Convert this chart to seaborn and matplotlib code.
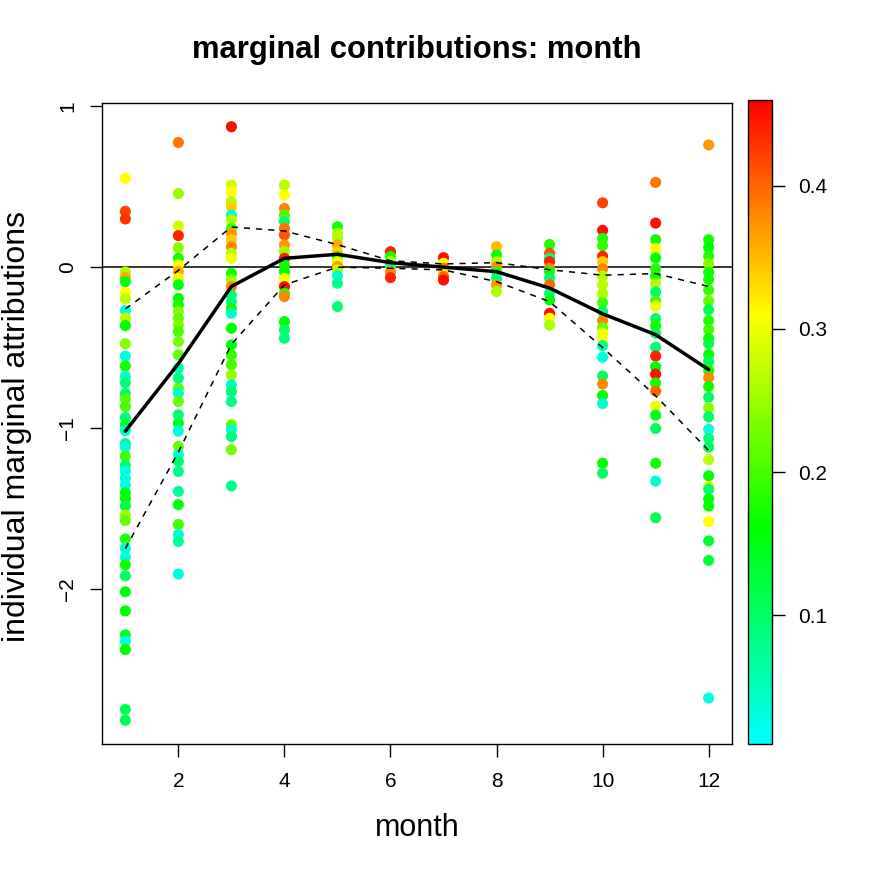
import numpy as np
import pandas as pd
import matplotlib
matplotlib.use("Agg")
import matplotlib.pyplot as plt
import seaborn as sns
from matplotlib.colors import LinearSegmentedColormap, Normalize
from matplotlib.cm import ScalarMappable

# individual marginal attributions per month (y) and colour value (c)
jan_y = [0.552, 0.347, 0.30, -0.03, -0.065, -0.09, -0.157, -0.196, -0.27, -0.317, -0.363, -0.476,
         -0.553, -0.615, -0.679, -0.718, -0.786, -0.82, -0.866, -0.935, -0.98, -1.016, -1.097,
         -1.119, -1.176, -1.233, -1.267, -1.313, -1.354, -1.404, -1.438, -1.484, -1.542, -1.575,
         -1.69, -1.748, -1.805, -1.851, -1.919, -2.018, -2.137, -2.286, -2.326, -2.377, -2.75, -2.817]
jan_c = [0.31, 0.42, 0.43, 0.26, 0.36, 0.15, 0.31, 0.27, 0.03, 0.27, 0.16, 0.24, 0.03, 0.17, 0.04,
         0.09, 0.10, 0.21, 0.20, 0.09, 0.14, 0.05, 0.08, 0.03, 0.20, 0.10, 0.03, 0.03, 0.03, 0.15,
         0.16, 0.12, 0.25, 0.22, 0.18, 0.04, 0.03, 0.17, 0.10, 0.15, 0.16, 0.14, 0.03, 0.16, 0.11, 0.11]

feb_y = [0.775, 0.458, 0.256, 0.196, 0.121, 0.055, 0.014, -0.028, -0.07, -0.11, -0.194, -0.235,
         -0.276, -0.318, -0.359, -0.4, -0.463, -0.545, -0.628, -0.69, -0.753, -0.784, -0.835,
         -0.918, -0.97, -1.02, -1.115, -1.166, -1.208, -1.27, -1.394, -1.477, -1.6, -1.663, -1.705, -1.908]
feb_c = [0.39, 0.25, 0.28, 0.44, 0.24, 0.17, 0.31, 0.36, 0.30, 0.15, 0.16, 0.17, 0.24, 0.22, 0.23,
         0.20, 0.23, 0.22, 0.06, 0.09, 0.21, 0.04, 0.22, 0.09, 0.14, 0.03, 0.22, 0.04, 0.09, 0.08,
         0.07, 0.15, 0.20, 0.03, 0.07, 0.03]

mar_y = [0.873, 0.51, 0.469, 0.407, 0.376, 0.324, 0.293, 0.241, 0.21, 0.169, 0.127, 0.086, 0.055,
         -0.038, -0.08, -0.121, -0.173, -0.214, -0.256, -0.287, -0.38, -0.483, -0.545, -0.607,
         -0.67, -0.732, -0.773, -0.835, -0.98, -1.011, -1.053, -1.135, -1.36]
mar_c = [0.45, 0.28, 0.31, 0.27, 0.34, 0.04, 0.26, 0.20, 0.37, 0.34, 0.38, 0.27, 0.30, 0.17, 0.25,
         0.38, 0.09, 0.08, 0.17, 0.05, 0.16, 0.15, 0.19, 0.20, 0.25, 0.04, 0.09, 0.08, 0.22, 0.04,
         0.09, 0.23, 0.08]

apr_y = [0.51, 0.448, 0.365, 0.324, 0.283, 0.241, 0.2, 0.138, 0.096, 0.055, 0.014, -0.028, -0.07,
         -0.121, -0.163, -0.183, -0.339, -0.39, -0.442]
apr_c = [0.27, 0.31, 0.38, 0.20, 0.10, 0.39, 0.41, 0.37, 0.25, 0.44, 0.17, 0.16, 0.30, 0.45, 0.18,
         0.38, 0.16, 0.10, 0.09]

may_y = [0.251, 0.21, 0.179, 0.138, 0.096, 0.065, 0.034, 0.003, -0.017, -0.053, -0.1, -0.245]
may_c = [0.17, 0.27, 0.26, 0.36, 0.34, 0.17, 0.30, 0.37, 0.27, 0.04, 0.08, 0.09]

jun_y = [0.096, 0.065, 0.034, 0.003, -0.028, -0.065]
jun_c = [0.44, 0.17, 0.26, 0.10, 0.38, 0.44]

jul_y = [0.059, 0.024, -0.007, -0.028, -0.059, -0.08]
jul_c = [0.45, 0.30, 0.39, 0.33, 0.40, 0.45]

aug_y = [0.127, 0.076, 0.034, 0.003, -0.028, -0.07, -0.11, -0.152]
aug_c = [0.35, 0.17, 0.26, 0.38, 0.18, 0.09, 0.37, 0.26]

sep_y = [0.141, 0.086, 0.055, 0.034, -0.007, -0.028, -0.07, -0.11, -0.163, -0.204, -0.287, -0.318, -0.36]
sep_c = [0.18, 0.41, 0.09, 0.44, 0.38, 0.17, 0.10, 0.40, 0.09, 0.16, 0.45, 0.31, 0.26]

oct_y = [0.40, 0.229, 0.178, 0.134, 0.068, 0.034, -0.01, -0.055, -0.11, -0.165, -0.22, -0.276,
         -0.332, -0.376, -0.41, -0.454, -0.488, -0.56, -0.676, -0.727, -0.798, -0.848, -1.219, -1.281]
oct_c = [0.42, 0.45, 0.18, 0.19, 0.44, 0.34, 0.38, 0.26, 0.27, 0.26, 0.20, 0.10, 0.38, 0.22, 0.30,
         0.31, 0.07, 0.03, 0.10, 0.38, 0.16, 0.04, 0.16, 0.10]

nov_y = [0.527, 0.274, 0.171, 0.116, 0.057, -0.01, -0.055, -0.099, -0.155, -0.21, -0.243, -0.32,
         -0.365, -0.41, -0.498, -0.553, -0.62, -0.665, -0.72, -0.771, -0.864, -0.92, -1.003,
         -1.219, -1.33, -1.558]
nov_c = [0.39, 0.45, 0.17, 0.31, 0.16, 0.18, 0.17, 0.26, 0.10, 0.20, 0.30, 0.10, 0.17, 0.10, 0.09,
         0.44, 0.16, 0.45, 0.17, 0.40, 0.30, 0.15, 0.11, 0.17, 0.04, 0.11]

dec_y = [0.76, 0.171, 0.123, 0.068, 0.023, -0.032, -0.077, -0.143, -0.21, -0.265, -0.332, -0.387,
         -0.443, -0.475, -0.543, -0.587, -0.643, -0.687, -0.742, -0.809, -0.875, -0.931, -1.008,
         -1.064, -1.119, -1.197, -1.297, -1.363, -1.381, -1.441, -1.485, -1.581, -1.702, -1.823, -2.679]
dec_c = [0.37, 0.17, 0.16, 0.18, 0.24, 0.17, 0.17, 0.19, 0.22, 0.11, 0.18, 0.20, 0.17, 0.12, 0.16,
         0.11, 0.17, 0.38, 0.17, 0.10, 0.24, 0.10, 0.03, 0.09, 0.10, 0.27, 0.16, 0.30, 0.10, 0.16,
         0.16, 0.31, 0.13, 0.13, 0.03]

months = list(range(1, 13))
mean_line = [-1.02, -0.60, -0.12, 0.055, 0.08, 0.028, 0.0, -0.028, -0.13, -0.29, -0.42, -0.637]
upper_line = [-0.26, -0.02, 0.25, 0.225, 0.14, 0.04, 0.02, 0.028, -0.016, -0.05, -0.04, -0.12]
lower_line = [-1.75, -1.15, -0.48, -0.11, 0.0, -0.007, -0.017, -0.09, -0.214, -0.5, -0.8, -1.14]

# build long table
ys = [jan_y, feb_y, mar_y, apr_y, may_y, jun_y, jul_y, aug_y, sep_y, oct_y, nov_y, dec_y]
cs = [jan_c, feb_c, mar_c, apr_c, may_c, jun_c, jul_c, aug_c, sep_c, oct_c, nov_c, dec_c]
parts = []
for m, y, c in zip(months, ys, cs):
    parts.append(pd.DataFrame({"month": m, "attr": y, "weight": c}))
df = pd.concat(parts, ignore_index=True)
lines = pd.DataFrame({"month": months, "mean": mean_line, "upper": upper_line, "lower": lower_line})

sns.set_style("ticks")
plt.rcParams['font.family'] = ['Liberation Sans', 'DejaVu Sans']
plt.rcParams['text.color'] = 'black'
plt.rcParams['xtick.color'] = 'black'
plt.rcParams['ytick.color'] = 'black'
plt.rcParams['axes.edgecolor'] = 'black'

cmap = LinearSegmentedColormap.from_list("cgyr", ["#00FFFF", "#00FF00", "#FFFF00", "#FF0000"])
norm = Normalize(vmin=0.01, vmax=0.46)

fig = plt.figure(figsize=(8.72, 8.72), dpi=100)
ax = fig.add_axes([102/872, 128/872, 630/872, 641/872])
cax = fig.add_axes([748/872, 128/872, 24/872, 644/872])

sns.scatterplot(data=df, x="month", y="attr", hue="weight", palette=cmap, hue_norm=norm,
                s=64, linewidth=0, legend=False, ax=ax, zorder=2)
ax.axhline(0, color="black", lw=1.1, zorder=1)
sns.lineplot(data=lines, x="month", y="mean", color="black", lw=2.5, ax=ax, zorder=3)
sns.lineplot(data=lines, x="month", y="upper", color="black", lw=1.1, ax=ax, zorder=3,
             linestyle=(0, (4, 4)))
sns.lineplot(data=lines, x="month", y="lower", color="black", lw=1.1, ax=ax, zorder=3,
             linestyle=(0, (4, 4)))

ax.margins(x=0.04, y=0.04)
ax.set_xticks([2, 4, 6, 8, 10, 12])
ax.set_yticks([-2, -1, 0, 1])
ax.set_yticklabels(["\u22122", "\u22121", "0", "1"])
ax.tick_params(axis="both", length=9, width=1, labelsize=15, color="black", labelcolor="black")
ax.tick_params(axis="x", pad=11)
ax.tick_params(axis="y", pad=9, labelrotation=90)
for lab in ax.get_yticklabels():
    lab.set_verticalalignment("center")
for sp in ax.spines.values():
    sp.set_visible(True)
    sp.set_linewidth(1)
    sp.set_color("black")
ax.set_xlabel("")
ax.set_ylabel("")

fig.text(417/872, 1 - 50/872, "marginal contributions: month", ha="center", va="center",
         fontsize=22.3, fontweight="bold", color="black")
fig.text(417/872, 1 - 828/872, "month", ha="center", va="center", fontsize=22, color="black")
fig.text(17/872, 1 - 427/872, "individual marginal attributions", ha="center", va="center",
         fontsize=23, rotation=90, color="black")

# colour bar
cb = fig.colorbar(ScalarMappable(norm=norm, cmap=cmap), cax=cax)
cb.set_ticks([0.1, 0.2, 0.3, 0.4])
cb.ax.tick_params(length=9, width=1, labelsize=15, pad=10, color="black", labelcolor="black")
cb.outline.set_linewidth(1)
cb.outline.set_edgecolor("black")

fig.savefig("out.png", dpi=100)
